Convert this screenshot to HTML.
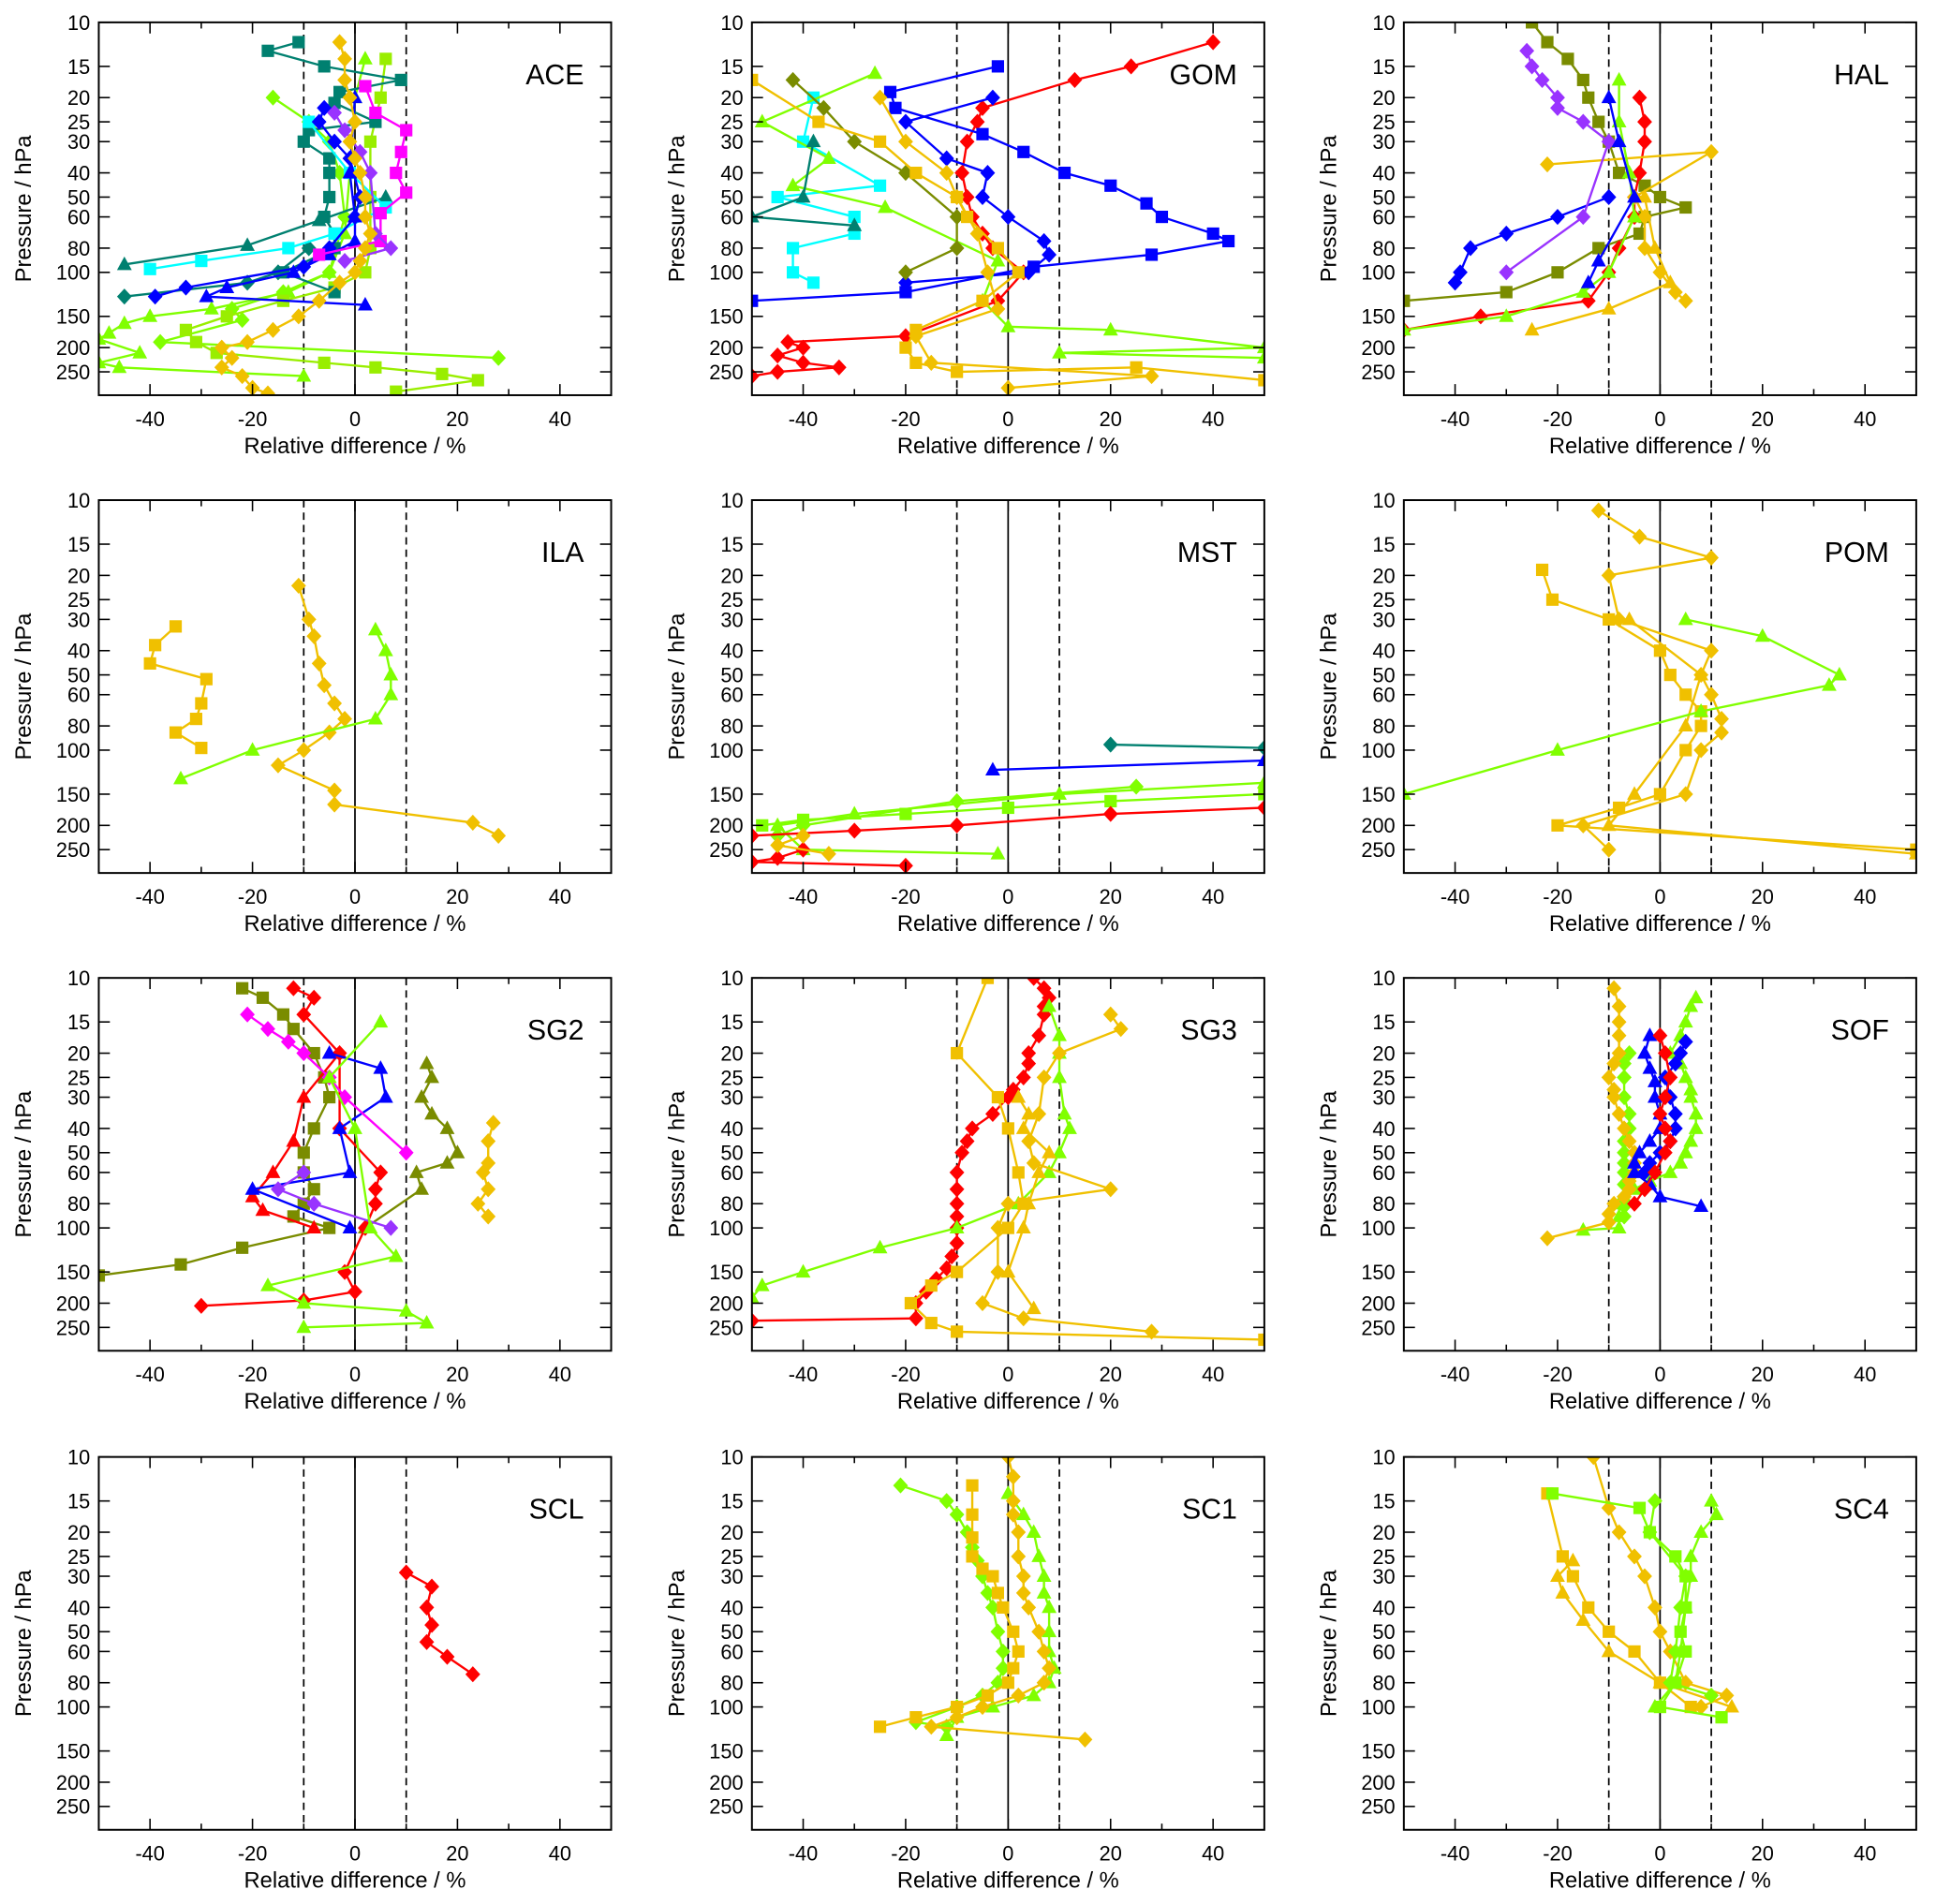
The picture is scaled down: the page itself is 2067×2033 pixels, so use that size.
<!DOCTYPE html>
<html><head><meta charset="utf-8"><style>
html,body{margin:0;padding:0;background:#fff}
svg{display:block}
text{font-family:"Liberation Sans",sans-serif;fill:#000}
</style></head><body>
<svg id="fig" width="2067" height="2033" viewBox="0 0 1568 1542" xmlns="http://www.w3.org/2000/svg"></svg>
<script>
// ---- data (each series: colour, marker, [pressure hPa, relative difference %] points) ----
const panelNames = ['ACE','GOM','HAL','ILA','MST','POM','SG2','SG3','SOF','SCL','SC1','SC4'];
const xTicks = [-40,-20,0,20,40];
const yTicks = [10,15,20,25,30,40,50,60,80,100,150,200,250];
const Y='#f0c000', G='#80ff00', LG='#99ee00', T='#008070', B='#0000ff', C='#00ffff', R='#ff0000', M='#ff00ff', P='#9933ff', O='#7a8c00';
const ACE = [
 [G,'t',[[14,2],[20,0],[40,-1],[70,-2],[100,-5],[120,-13],[140,-28],[150,-40],[160,-45],[175,-48],[185,-50],[210,-42],[230,-50],[240,-46],[260,-10]]],
 [G,'d',[[20,-16],[25,-9],[30,-5],[40,-3],[60,-2],[100,-5],[120,-14],[140,-24],[155,-22],[190,-38],[220,28]]],
 [LG,'s',[[14,6],[20,5],[30,3],[50,3],[80,3],[100,2],[115,-4],[130,-14],[150,-25],[170,-33],[190,-31],[210,-27],[230,-6],[240,4],[255,17],[270,24],[300,8]]],
 [T,'s',[[12,-11],[13,-17],[15,-6],[17,9],[19,-3],[21,-4],[25,4],[27,-9],[30,-10],[35,-5],[40,-5],[50,-5],[60,-6],[70,-4],[80,-4],[100,-14],[120,-4]]],
 [T,'t',[[50,6],[62,-7],[78,-21],[93,-45]]],
 [T,'d',[[80,-9],[100,-15],[110,-21],[125,-45]]],
 [C,'s',[[25,-9],[40,-1],[55,6],[70,-4],[80,-13],[90,-30],[97,-40]]],
 [B,'d',[[22,-6],[25,-7],[30,-4],[35,-1],[50,1],[60,0],[80,-5],[95,-10],[115,-33],[125,-39]]],
 [B,'t',[[20,0],[40,-1],[60,0],[75,0],[85,-5],[100,-12],[115,-25],[125,-29],[135,2]]],
 [M,'s',[[18,2],[23,4],[27,10],[33,9],[40,8],[48,10],[58,5],[75,5],[85,-7]]],
 [P,'d',[[23,-4],[27,-2],[33,1],[40,3],[70,4],[80,7],[90,-2]]],
 [Y,'d',[[12,-3],[14,-2],[17,-2],[20,-1],[25,0],[30,-1],[35,0],[40,1],[50,2],[60,2],[70,3],[80,2],[90,1],[100,0],[110,-3],[130,-7],[150,-11],[170,-16],[190,-21],[200,-26],[220,-24],[240,-26],[260,-22],[290,-20],[305,-17]]]
];
const GOM = [
 [R,'d',[[12,40],[15,24],[17,13],[22,-5],[25,-6],[30,-8],[40,-9],[50,-8],[60,-7],[70,-5],[80,-3],[100,3],[130,-2],[180,-20],[190,-43],[200,-40],[215,-45],[230,-40],[240,-33],[250,-45],[260,-50]]],
 [B,'s',[[15,-2],[19,-23],[22,-22],[28,-5],[33,3],[40,11],[45,20],[53,27],[60,30],[70,40],[75,43],[85,28],[95,5],[120,-20],[130,-50]]],
 [B,'d',[[20,-3],[25,-20],[35,-12],[40,-4],[50,-5],[60,0],[75,7],[85,8],[100,4],[110,-20]]],
 [C,'s',[[20,-38],[30,-40],[45,-25],[50,-45],[60,-30],[70,-30],[80,-42],[100,-42],[110,-38]]],
 [G,'t',[[16,-26],[25,-48],[35,-35],[45,-42],[55,-24],[90,-2],[130,-5],[165,0],[170,20],[200,50],[210,10],[220,50]]],
 [O,'d',[[17,-42],[22,-36],[30,-30],[40,-20],[60,-10],[80,-10],[100,-20]]],
 [T,'t',[[30,-38],[50,-40],[60,-50],[65,-30]]],
 [Y,'s',[[17,-50],[25,-37],[30,-25],[40,-18],[50,-10],[60,-8],[80,-2],[100,2],[130,-5],[170,-18],[200,-20],[230,-18],[250,-10],[240,25],[270,50]]],
 [Y,'d',[[20,-25],[30,-20],[40,-12],[50,-10],[70,-6],[100,-4],[140,-2],[180,-18],[230,-15],[260,28],[290,0]]]
];
const HAL = [
 [O,'s',[[10,-25],[12,-22],[14,-18],[17,-15],[20,-14],[25,-12],[30,-10],[40,-8],[45,-3],[50,0],[55,5],[60,-3],[70,-4],[80,-12],[100,-20],[120,-30],[130,-50]]],
 [R,'d',[[20,-4],[25,-3],[30,-3],[40,-4],[50,-5],[60,-5],[80,-8],[100,-10],[130,-14],[150,-35],[170,-50]]],
 [Y,'d',[[37,-22],[33,10],[50,-5],[60,-3],[80,-3],[100,0],[120,3],[130,5]]],
 [Y,'t',[[50,-3],[80,-1],[110,2],[140,-10],[170,-25]]],
 [B,'d',[[50,-10],[60,-20],[70,-30],[80,-37],[100,-39],[110,-40]]],
 [P,'d',[[13,-26],[15,-25],[17,-23],[20,-20],[22,-20],[25,-15],[30,-10],[60,-15],[100,-30]]],
 [G,'t',[[17,-8],[25,-8],[40,-6],[60,-5],[100,-10],[120,-15],[150,-30],[170,-50]]],
 [B,'t',[[20,-10],[30,-8],[50,-5],[90,-12],[110,-14]]]
];
const ILA = [
 [Y,'s',[[32,-35],[38,-39],[45,-40],[52,-29],[65,-30],[75,-31],[85,-35],[98,-30]]],
 [Y,'d',[[22,-11],[30,-9],[35,-8],[45,-7],[55,-6],[65,-4],[75,-2],[85,-5],[100,-10],[115,-15],[145,-4],[165,-4],[195,23],[220,28]]],
 [G,'t',[[33,4],[40,6],[50,7],[60,7],[75,4],[100,-20],[130,-34]]]
];
const MST = [
 [T,'d',[[95,20],[98,50]]],
 [B,'t',[[120,-3],[110,50]]],
 [G,'s',[[150,50],[160,20],[170,0],[180,-20],[190,-40],[200,-48]]],
 [G,'t',[[135,50],[150,10],[180,-30],[200,-45],[250,-40],[260,-2]]],
 [G,'d',[[140,25],[160,-10],[200,-40],[220,-45]]],
 [R,'d',[[170,50],[180,20],[200,-10],[210,-30],[220,-50]]],
 [R,'d',[[250,-40],[270,-45],[280,-50],[290,-20]]],
 [Y,'d',[[220,-40],[240,-45],[260,-35]]]
];
const POM = [
 [Y,'d',[[11,-12],[14,-4],[17,10],[20,-10],[30,-8],[40,10],[50,8],[60,10],[75,12],[85,12],[100,8],[150,5],[200,-15],[250,-10]]],
 [Y,'s',[[19,-23],[25,-21],[30,-10],[40,0],[50,2],[60,5],[70,8],[80,8],[100,5],[150,0],[170,-8],[200,-20],[250,50]]],
 [Y,'t',[[30,-6],[50,8],[80,5],[150,-5],[200,-10],[260,50]]],
 [G,'t',[[30,5],[35,20],[50,35],[55,33],[70,8],[100,-20],[150,-50]]]
];
const SG2 = [
 [O,'s',[[11,-22],[12,-18],[14,-14],[16,-12],[20,-8],[25,-6],[30,-5],[40,-8],[50,-10],[60,-10],[70,-8],[80,-10],[90,-12],[100,-5],[120,-22],[140,-34],[155,-50]]],
 [O,'t',[[22,14],[25,15],[30,13],[35,15],[40,18],[50,20],[55,18],[60,12],[70,13],[100,2]]],
 [Y,'d',[[38,27],[45,26],[55,26],[60,25],[70,26],[80,24],[90,26]]],
 [R,'d',[[11,-12],[12,-8],[14,-10],[20,-3],[40,-3],[60,5],[70,4],[80,4],[100,2],[150,-2],[180,0],[195,-10],[205,-30]]],
 [R,'t',[[20,-3],[30,-10],[45,-12],[60,-16],[75,-20],[85,-18],[100,-8]]],
 [B,'t',[[20,-5],[23,5],[30,6],[40,-3],[60,-1],[70,-20],[100,-1]]],
 [M,'d',[[14,-21],[16,-17],[18,-13],[20,-10],[25,-5],[30,-2],[50,10]]],
 [P,'d',[[60,-10],[70,-15],[80,-8],[100,7]]],
 [G,'t',[[15,5],[25,-5],[40,0],[100,3],[130,8],[170,-17],[200,-10],[215,10],[240,14],[250,-10]]]
];
const SG3 = [
 [R,'d',[[10,5],[11,7],[12,8],[13,7],[14,7],[17,6],[20,4],[22,4],[25,3],[28,1],[30,0],[35,-3],[40,-7],[45,-8],[50,-9],[60,-10],[70,-10],[80,-10],[90,-10],[100,-10],[115,-10],[130,-11],[145,-12],[160,-14],[180,-16],[200,-18],[230,-18],[235,-50]]],
 [G,'t',[[13,8],[17,10],[20,10],[25,10],[35,11],[40,12],[50,10],[60,8],[80,2],[100,-10],[120,-25],[150,-40],[170,-48],[190,-50]]],
 [Y,'s',[[10,-4],[20,-10],[30,-2],[40,0],[60,2],[80,3],[100,0],[150,-10],[170,-15],[200,-19],[240,-15],[260,-10],[280,50]]],
 [Y,'d',[[14,20],[16,22],[20,10],[25,7],[35,6],[45,4],[55,5],[70,20],[80,0],[100,-2],[150,-2],[200,-5],[230,3],[260,28]]],
 [Y,'t',[[30,2],[35,4],[40,3],[50,8],[60,6],[80,4],[100,3],[150,0],[210,5]]]
];
const SOF = [
 [G,'t',[[12,7],[13,6],[15,5],[17,4],[20,2],[22,4],[25,5],[28,6],[30,6],[35,7],[40,7],[45,6],[50,5],[55,4],[60,2],[65,-2],[70,-5],[75,-7],[80,-8],[90,-8],[100,-8],[102,-15]]],
 [G,'d',[[20,-6],[22,-7],[25,-7],[30,-7],[35,-6],[40,-6],[45,-7],[50,-7],[55,-7],[60,-7],[67,-7],[75,-7],[82,-7],[90,-7]]],
 [Y,'d',[[11,-9],[13,-8],[15,-8],[17,-8],[20,-8],[22,-9],[25,-10],[28,-9],[30,-9],[35,-8],[40,-7],[45,-6],[50,-5],[55,-5],[60,-5],[65,-6],[70,-6],[75,-7],[80,-9],[88,-10],[95,-10],[110,-22]]],
 [B,'t',[[17,-2],[20,-3],[23,-2],[26,-1],[30,-1],[35,0],[40,0],[45,-2],[50,-4],[55,-5],[60,-5],[67,-2],[75,0],[82,8]]],
 [B,'d',[[18,5],[20,4],[22,3],[25,1],[30,2],[35,3],[40,3],[45,2],[50,0],[55,-2],[60,-3]]],
 [R,'d',[[17,0],[20,1],[25,2],[30,1],[35,0],[40,1],[45,2],[50,1],[60,-1],[70,-3],[80,-5]]]
];
const SCL = [
 [R,'d',[[29,10],[33,15],[40,14],[47,15],[55,14],[63,18],[74,23]]]
];
const SC1 = [
 [G,'d',[[13,-21],[15,-12],[17,-10],[20,-8],[23,-7],[26,-6],[30,-5],[35,-4],[40,-3],[50,-2],[60,-1],[70,-1],[80,-2],[90,-5],[100,-10],[115,-18],[120,-12]]],
 [G,'t',[[14,0],[17,3],[20,5],[25,6],[30,7],[35,7],[40,8],[50,8],[60,8],[70,9],[80,8],[90,5],[100,-3],[110,-10],[130,-12]]],
 [Y,'s',[[13,-7],[17,-7],[21,-7],[25,-7],[28,-5],[30,-3],[35,-2],[40,-1],[50,1],[60,2],[70,1],[80,0],[90,-4],[100,-10],[110,-18],[120,-25]]],
 [Y,'d',[[10,0],[12,1],[15,1],[17,1],[20,2],[25,2],[30,3],[35,3],[40,4],[50,6],[60,7],[70,8],[80,7],[90,2],[100,-5],[110,-10],[120,-15],[135,15]]]
];
const SC4 = [
 [Y,'d',[[10,-13],[16,-10],[20,-8],[25,-5],[30,-3],[40,-1],[50,0],[60,2],[80,5],[90,13],[100,8]]],
 [Y,'s',[[14,-22],[25,-19],[30,-17],[40,-14],[50,-10],[60,-5],[80,0],[100,6]]],
 [Y,'t',[[26,-17],[30,-20],[35,-19],[45,-15],[60,-10],[80,0],[100,14]]],
 [G,'s',[[14,-21],[16,-4],[20,-2],[25,3],[30,5],[40,5],[50,4],[60,5],[80,3],[100,0],[110,12]]],
 [G,'t',[[15,10],[17,11],[20,8],[25,6],[30,6],[40,5],[60,4],[80,3],[100,-1]]],
 [G,'d',[[15,-1],[20,-2],[30,5],[40,4],[60,3],[80,2],[90,10]]]
];
const panelData = [ACE,GOM,HAL,ILA,MST,POM,SG2,SG3,SOF,SCL,SC1,SC4];

// ---- drawing ----
const NS='http://www.w3.org/2000/svg';
const svg=document.getElementById('fig');
const colLeft=[80,609,1137], rowTop=[18,405,792,1180], W=415, H=302;
const xMin=-50,xMax=50, pMax=310;
function mk(tag,attrs,parent){const e=document.createElementNS(NS,tag);for(const k in attrs)e.setAttribute(k,attrs[k]);(parent||svg).appendChild(e);return e;}
panelNames.forEach((name,i)=>{
  const x0=colLeft[i%3], y0=rowTop[Math.floor(i/3)];
  const sx=v=>x0+(v-xMin)/(xMax-xMin)*W;
  const sy=p=>y0+(Math.log10(p)-1)/(Math.log10(pMax)-1)*H;
  const g=mk('g',{});
  
  
  const clipId='clip'+i;
  const cp=mk('clipPath',{id:clipId},g); mk('rect',{x:x0,y:y0,width:W,height:H},cp);
  [-10,10].forEach(v=>{const l=mk('line',{x1:sx(v),x2:sx(v),y1:y0,y2:y0+H,stroke:'#000','stroke-width':1.3,'stroke-dasharray':'6,4'},g);
    
    });
  const zl=mk('line',{x1:sx(0),x2:sx(0),y1:y0,y2:y0+H,stroke:'#000','stroke-width':1.3},g);
  
  
  const sg=mk('g',{'clip-path':'url(#'+clipId+')'},g);
  panelData[i].forEach((s,k)=>{
    const [col,mkType,pts]=s;
    const ser=mk('g',{},sg);
    
    
    mk('polyline',{points:pts.map(q=>sx(q[1])+','+sy(q[0])).join(' '),fill:'none',stroke:col,'stroke-width':1.8},ser);
    pts.forEach(q=>{
      const cx=sx(q[1]), cy=sy(q[0]); let e;
      if(mkType==='s') e=mk('rect',{x:cx-5,y:cy-5,width:10,height:10,fill:col},ser);
      else if(mkType==='t') e=mk('polygon',{points:`${cx},${cy-6.5} ${cx+6},${cy+4.5} ${cx-6},${cy+4.5}`,fill:col},ser);
      else e=mk('polygon',{points:`${cx},${cy-6.5} ${cx+6},${cy} ${cx},${cy+6.5} ${cx-6},${cy}`,fill:col},ser);
      
      
    });
  });
  const fr=mk('rect',{x:x0,y:y0,width:W,height:H,fill:'none',stroke:'#000','stroke-width':1.5},g);
  
  
  for(let v=-40;v<=40;v+=10){const len=(v%20===0)?9:5;
    mk('line',{x1:sx(v),x2:sx(v),y1:y0+H,y2:y0+H-len,stroke:'#000','stroke-width':1.2},g);
    mk('line',{x1:sx(v),x2:sx(v),y1:y0,y2:y0+len,stroke:'#000','stroke-width':1.2},g);}
  xTicks.forEach(v=>{const t=mk('text',{x:sx(v),y:y0+H+25,'font-size':16.5,'text-anchor':'middle'},g);t.textContent=v;
    
    });
  yTicks.forEach(p=>{
    mk('line',{x1:x0,x2:x0+9,y1:sy(p),y2:sy(p),stroke:'#000','stroke-width':1.2},g);
    mk('line',{x1:x0+W,x2:x0+W-9,y1:sy(p),y2:sy(p),stroke:'#000','stroke-width':1.2},g);
    const t=mk('text',{x:x0-7,y:sy(p)+6,'font-size':16.5,'text-anchor':'end'},g);t.textContent=p;
    
    });
  const xt=mk('text',{x:x0+W/2,y:y0+H+47,'font-size':18,'text-anchor':'middle'},g);xt.textContent='Relative difference / %';
  
  
  const yt=mk('text',{x:0,y:0,'font-size':18,'text-anchor':'middle',transform:`translate(${x0-55},${y0+H/2}) rotate(-90)`},g);yt.textContent='Pressure / hPa';
  
  
  const lb=mk('text',{x:x0+W-22,y:y0+50,'font-size':23,'text-anchor':'end'},g);lb.textContent=name;
  
  
});
</script>
</body></html>
